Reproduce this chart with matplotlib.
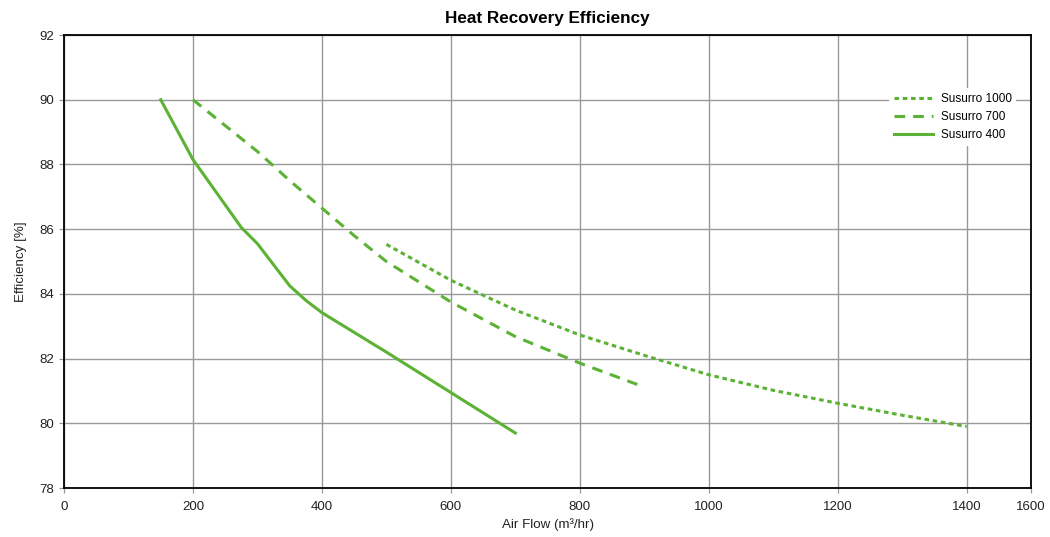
import matplotlib
matplotlib.use("Agg")
import matplotlib.pyplot as plt

plt.rcParams['font.family'] = ['Liberation Sans', 'DejaVu Sans']

title = "Heat Recovery Efficiency"
x_label = "Air Flow (m\u00b3/hr)"
y_label = "Efficiency [%]"

s1000_x = [500, 600, 700, 800, 900, 1000, 1100, 1200, 1300, 1400]
s1000_y = [85.53, 84.42, 83.5, 82.73, 82.1, 81.5, 81.02, 80.62, 80.25, 79.9]

s700_x = [200, 250, 300, 350, 400, 450, 500, 600, 700, 800, 900]
s700_y = [90.0, 89.2, 88.4, 87.5, 86.65, 85.8, 85.0, 83.75, 82.68, 81.86, 81.12]

s400_x = [150, 200, 250, 275, 300, 325, 350, 375, 400, 500, 600, 700]
s400_y = [90.0, 88.15, 86.75, 86.05, 85.55, 84.9, 84.25, 83.8, 83.42, 82.2, 80.95, 79.7]

x_tick_pos = [0, 200, 400, 600, 800, 1000, 1200, 1400, 1500]
x_tick_labels = ["0", "200", "400", "600", "800", "1000", "1200", "1400", "1600"]
y_ticks = [78, 80, 82, 84, 86, 88, 90, 92]

green = '#5cb234'

fig = plt.figure(figsize=(10.5, 5.37), dpi=100)
ax = fig.add_axes([0.061, 0.0912, 0.921, 0.8436])

ax.plot(s1000_x, s1000_y, color=green, lw=2.2, linestyle=(0, (1.5, 1.2)), label="Susurro 1000")
ax.plot(s700_x, s700_y, color=green, lw=2.2, linestyle=(0, (3.5, 2.6)), label="Susurro 700")
ax.plot(s400_x, s400_y, color=green, lw=2.2, linestyle='-', label="Susurro 400")

ax.set_xlim(0, 1500)
ax.set_ylim(78, 92)
ax.set_xticks(x_tick_pos)
ax.set_xticklabels(x_tick_labels)
ax.set_yticks(y_ticks)
ax.tick_params(axis='both', direction='out', length=3.8, width=0.9, color='#999999',
               labelsize=9.5, labelcolor='#222222')
ax.tick_params(axis='y', pad=3.5)
ax.tick_params(axis='x', pad=5.5)
ax.grid(True, color='#999999', lw=1.0)
ax.set_axisbelow(True)
for sp in ax.spines.values():
    sp.set_color('black')
    sp.set_linewidth(1.3)

ax.set_title(title, fontsize=12.3, fontweight='bold', pad=9)
ax.set_xlabel(x_label, fontsize=9.6, labelpad=4, color='#222222')
ax.set_ylabel(y_label, fontsize=9.6, labelpad=9, color='#222222')

leg = ax.legend(loc='upper right', bbox_to_anchor=(0.991, 0.895), frameon=True,
                fontsize=8.5, handlelength=3.3, handletextpad=0.7, labelspacing=0.5,
                borderpad=0.4, fancybox=False)
leg.get_frame().set_edgecolor('none')
leg.get_frame().set_facecolor('white')
leg.get_frame().set_alpha(1)

fig.savefig("out.png", dpi=100)
